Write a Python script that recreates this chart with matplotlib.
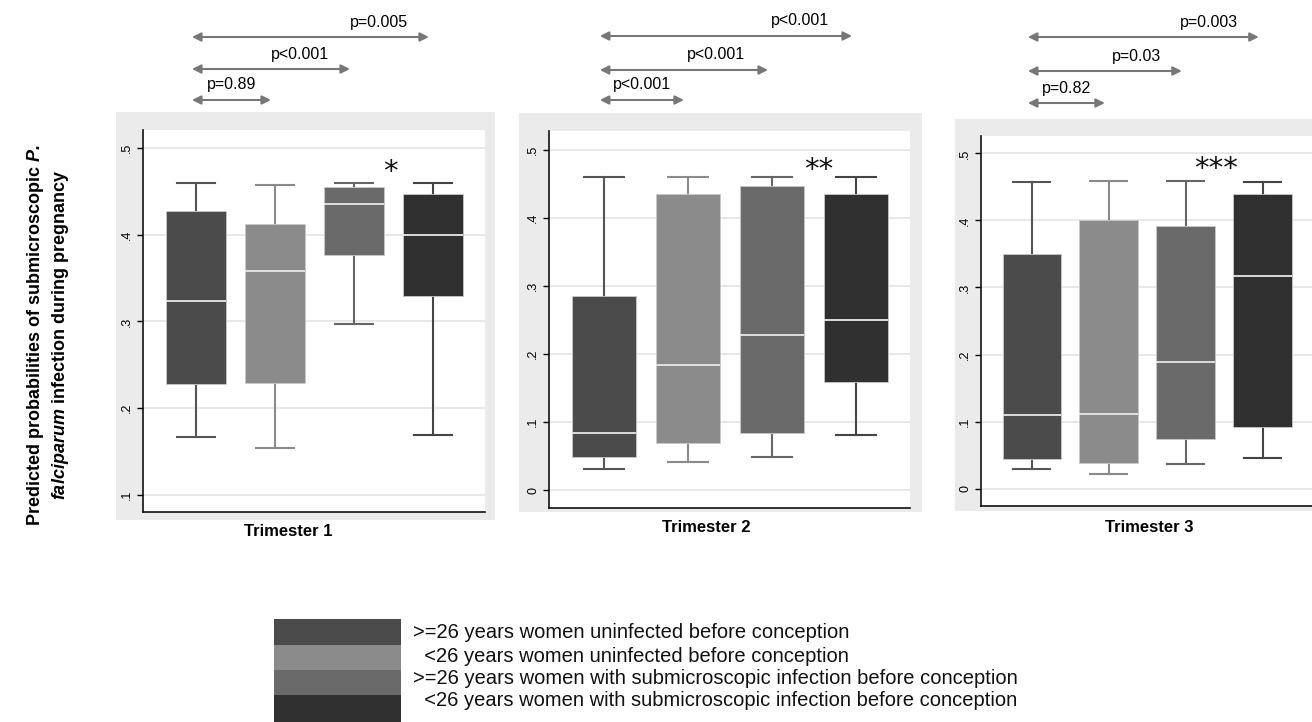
import numpy as np
import matplotlib
matplotlib.use("Agg")
import matplotlib.pyplot as plt
from matplotlib.patches import Rectangle

plt.rcParams['font.family'] = ['Liberation Sans', 'DejaVu Sans']
plt.rcParams['mathtext.fontset'] = 'custom'
plt.rcParams['mathtext.rm'] = 'Liberation Sans:bold'
plt.rcParams['mathtext.bf'] = 'Liberation Sans:bold'
plt.rcParams['mathtext.it'] = 'Liberation Sans:italic:bold'
plt.rcParams['mathtext.bfit'] = 'Liberation Sans:italic:bold'

# data
groups = ['>=26 years women uninfected before conception',
          '  <26 years women uninfected before conception',
          '>=26 years women with submicroscopic infection before conception',
          '  <26 years women with submicroscopic infection before conception']
trimesters = ['Trimester 1', 'Trimester 2', 'Trimester 3']

t1_low = [0.167, 0.154, 0.297, 0.169]
t1_q1 = [0.228, 0.229, 0.376, 0.329]
t1_med = [0.324, 0.358, 0.435, 0.399]
t1_q3 = [0.427, 0.412, 0.455, 0.447]
t1_high = [0.459, 0.457, 0.459, 0.459]

t2_low = [0.031, 0.042, 0.049, 0.082]
t2_q1 = [0.049, 0.070, 0.084, 0.159]
t2_med = [0.084, 0.184, 0.228, 0.251]
t2_q3 = [0.285, 0.435, 0.447, 0.435]
t2_high = [0.460, 0.460, 0.460, 0.460]

t3_low = [0.029, 0.022, 0.037, 0.046]
t3_q1 = [0.044, 0.038, 0.074, 0.092]
t3_med = [0.110, 0.111, 0.189, 0.317]
t3_q3 = [0.350, 0.400, 0.391, 0.440]
t3_high = [0.457, 0.459, 0.459, 0.457]

t1_p = ['p=0.89', 'p<0.001', 'p=0.005']
t2_p = ['p<0.001', 'p<0.001', 'p<0.001']
t3_p = ['p=0.82', 'p=0.03', 'p=0.003']
stars = ['*', '**', '***']

t1_ticks = [0.1, 0.2, 0.3, 0.4, 0.5]
t23_ticks = [0.0, 0.1, 0.2, 0.3, 0.4, 0.5]

fills = ['#4b4b4b', '#8b8b8b', '#6a6a6a', '#303030']
whisk = ['#555555', '#8a8a8a', '#666666', '#444444']

W, H = 1312, 722
fig = plt.figure(figsize=(W / 100, H / 100), dpi=100)


def px(x0, y0, x1, y1):
    # pixel box (top-left origin) -> figure fraction rect
    return [x0 / W, 1 - y1 / H, (x1 - x0) / W, (y1 - y0) / H]


panels = [
    dict(stats=(t1_low, t1_q1, t1_med, t1_q3, t1_high), p=t1_p, ticks=t1_ticks,
         ax=(143, 130, 485, 512), bg=(116, 112, 495, 520), ylim=(0.0805, 0.5205),
         xlim=(0.33, 4.66), title=(288, 532), arr_y=(100, 69, 37), star=(3.46, 0.472)),
    dict(stats=(t2_low, t2_q1, t2_med, t2_q3, t2_high), p=t2_p, ticks=t23_ticks,
         ax=(549, 131, 910, 508), bg=(519, 113, 922, 512), ylim=(-0.026, 0.528),
         xlim=(0.345, 4.64), title=(706, 527), arr_y=(100, 70, 36), star=(3.55, 0.470)),
    dict(stats=(t3_low, t3_q1, t3_med, t3_q3, t3_high), p=t3_p, ticks=t23_ticks,
         ax=(981, 136, 1318, 506), bg=(955, 119, 1330, 511), ylim=(-0.026, 0.526),
         xlim=(0.34, 4.72), title=(1149, 528), arr_y=(103, 71, 37), star=(3.40, 0.477)),
]

for k, pn in enumerate(panels):
    fig.add_artist(Rectangle(tuple(px(*pn['bg'])[:2]), *px(*pn['bg'])[2:],
                             transform=fig.transFigure, facecolor='#ebebeb',
                             edgecolor='none', zorder=-5))
    ax = fig.add_axes(px(*pn['ax']))
    lo, q1, med, q3, hi = pn['stats']
    bstats = [dict(whislo=lo[i], q1=q1[i], med=med[i], q3=q3[i], whishi=hi[i], fliers=[])
              for i in range(4)]
    bp = ax.bxp(bstats, positions=[1, 2, 3, 4], widths=0.76, capwidths=0.48,
                patch_artist=True, showfliers=False)
    for i in range(4):
        bp['boxes'][i].set(facecolor=fills[i], edgecolor='#c8c8c8', linewidth=0.6, zorder=3)
        bp['medians'][i].set(color='#e8e8e8', linewidth=1.3, zorder=4)
        for j in (2 * i, 2 * i + 1):
            bp['whiskers'][j].set(color=whisk[i], linewidth=1.5)
            bp['caps'][j].set(color=whisk[i], linewidth=1.5)
    ax.set_xlim(*pn['xlim'])
    ax.set_ylim(*pn['ylim'])
    ax.set_yticks(pn['ticks'])
    ax.set_yticklabels(['0' if t == 0 else ('%.1f' % t)[1:] for t in pn['ticks']],
                       rotation=90, va='center', fontsize=9)
    ax.set_xticks([])
    ax.tick_params(axis='y', length=4, width=1, pad=3)
    for t in pn['ticks']:
        ax.axhline(t, color='#e6e6e6', lw=1.3, zorder=0)
    for s in ('top', 'right'):
        ax.spines[s].set_visible(False)
    for s in ('left', 'bottom'):
        ax.spines[s].set_linewidth(1.2)
        ax.spines[s].set_color('#111111')

    ax.text(pn['star'][0], pn['star'][1], stars[k], ha='center', va='center',
            fontsize=21, color='#111111', family='DejaVu Sans')

    # comparison arrows: group 1 against groups 2, 3, 4
    for j in range(3):
        yf = 1 - pn['arr_y'][j] / H
        x_end = j + 2 - 0.05
        ax.annotate('', xy=(x_end, yf), xytext=(0.95, yf),
                    xycoords=('data', 'figure fraction'),
                    textcoords=('data', 'figure fraction'),
                    arrowprops=dict(arrowstyle='<|-|>', color='#777777', lw=1.5,
                                    mutation_scale=13, shrinkA=0, shrinkB=0),
                    annotation_clip=False)
        ty = 1 - (pn['arr_y'][j] - 15) / H
        if j == 0:
            ax.annotate(pn['p'][j], xy=((0.95 + x_end) / 2, ty),
                        xycoords=('data', 'figure fraction'),
                        ha='center', va='center', fontsize=11.5, annotation_clip=False)
        else:
            ax.annotate(pn['p'][j], xy=(x_end - 0.27, ty),
                        xycoords=('data', 'figure fraction'),
                        ha='right', va='center', fontsize=11.5, annotation_clip=False)

    fig.text(pn['title'][0] / W, 1 - pn['title'][1] / H, trimesters[k],
             ha='center', va='center', fontsize=12, fontweight='bold')

fig.text(48 / W, 1 - 335 / H,
         'Predicted probabilities of submicroscopic $\\mathbfit{P.}$\n'
         '$\\mathbfit{falciparum}$ infection during pregnancy',
         rotation=90, ha='center', va='center', fontsize=13, fontweight='bold',
         multialignment='center', linespacing=1.3)

# legend: stacked colour blocks with labels
row_top = [619, 645, 670, 695]
row_bot = [645, 670, 695, 722]
text_y = [633, 656, 678, 701]
for i in range(4):
    fig.add_artist(Rectangle(tuple(px(274, row_top[i], 401, row_bot[i])[:2]),
                             *px(274, row_top[i], 401, row_bot[i])[2:],
                             transform=fig.transFigure, facecolor=fills[i],
                             edgecolor='none'))
    fig.text(413 / W, 1 - text_y[i] / H, groups[i], ha='left', va='center',
             fontsize=14.5, color='#111111')

fig.savefig('out.png', dpi=100)
